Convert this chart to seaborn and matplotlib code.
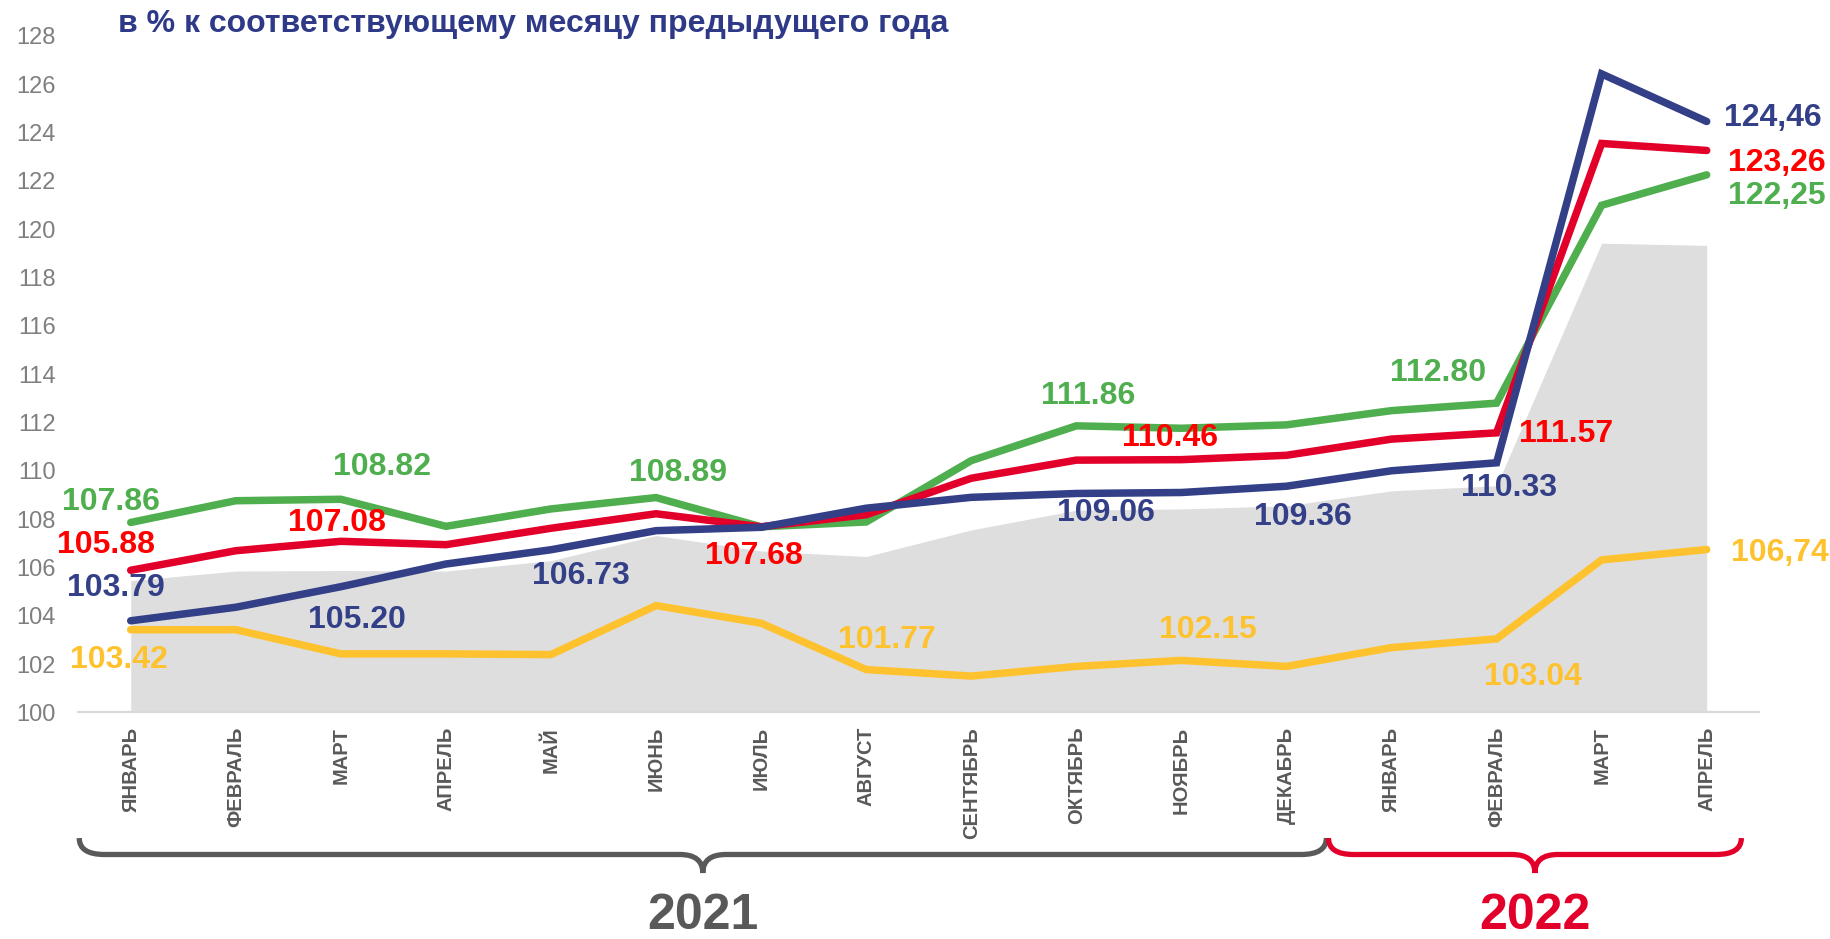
import numpy as np
import pandas as pd
import seaborn as sns
import matplotlib

matplotlib.use("Agg")
import matplotlib.pyplot as plt
from matplotlib.path import Path
from matplotlib.patches import PathPatch
from matplotlib.transforms import blended_transform_factory

# --- data -------------------------------------------------------------
months = ["ЯНВАРЬ", "ФЕВРАЛЬ", "МАРТ", "АПРЕЛЬ", "МАЙ", "ИЮНЬ", "ИЮЛЬ", "АВГУСТ",
          "СЕНТЯБРЬ", "ОКТЯБРЬ", "НОЯБРЬ", "ДЕКАБРЬ",
          "ЯНВАРЬ", "ФЕВРАЛЬ", "МАРТ", "АПРЕЛЬ"]
years = ["2021", "2022"]
months_per_year = [12, 4]

blue = [103.79, 104.35, 105.20, 106.14, 106.73, 107.52, 107.66, 108.45,
        108.90, 109.06, 109.10, 109.36, 110.00, 110.33, 126.43, 124.46]
red = [105.88, 106.69, 107.08, 106.94, 107.62, 108.22, 107.68, 108.18,
       109.69, 110.44, 110.46, 110.64, 111.31, 111.57, 123.55, 123.26]
green = [107.86, 108.76, 108.82, 107.70, 108.42, 108.89, 107.68, 107.88,
         110.42, 111.86, 111.76, 111.90, 112.49, 112.80, 120.99, 122.25]
yellow = [103.42, 103.42, 102.42, 102.42, 102.39, 104.42, 103.69, 101.77,
          101.50, 101.90, 102.15, 101.90, 102.68, 103.04, 106.31, 106.74]
gray_area = [105.45, 105.85, 105.87, 105.85, 106.28, 107.32, 106.68, 106.45,
             107.55, 108.37, 108.42, 108.55, 109.17, 109.38, 119.42, 119.33]

# which points carry a value label
blue_lab = [0, 2, 4, 9, 11, 13, 15]
red_lab = [0, 2, 6, 10, 13, 15]
green_lab = [0, 2, 5, 9, 13, 15]
yellow_lab = [0, 7, 10, 13, 15]

title = "в % к соответствующему месяцу предыдущего года"

# --- style --------------------------------------------------------------
line_col = {"blue": "#333F87", "red": "#E2002B", "green": "#4FAF4F", "yellow": "#FFC22F"}
text_col = {"blue": "#333F87", "red": "#FF0000", "green": "#4FAF4F", "yellow": "#FFC22F"}
year_col = ["#595959", "#E2002B"]
# label offsets in pixels (dx, dy up)
offsets = {
    "blue": [(-15, 33), (16, -33), (30, -26), (30, -20), (16, -31), (12, -25), (17, 3)],
    "red": [(-25, 25), (-4, 18), (-7, -29), (-11, 22), (70, -1), (21, -13)],
    "green": [(-20, 20), (41, 32), (22, 25), (12, 30), (-58, 30), (21, -21)],
    "yellow": [(-12, -30), (21, 30), (27, 30), (36, -38), (24, -3)],
}

sns.set_theme(style="white")
plt.rcParams["font.family"] = ["Liberation Sans", "DejaVu Sans"]

series = {"yellow": yellow, "green": green, "red": red, "blue": blue}
labels_at = {"yellow": yellow_lab, "green": green_lab, "red": red_lab, "blue": blue_lab}

x = np.arange(len(months))
df = pd.concat([pd.DataFrame({"idx": x, "value": v, "series": k}) for k, v in series.items()],
               ignore_index=True)

fig = plt.figure(figsize=(18.31, 9.39), dpi=100)
ax = fig.add_axes([0.0427, 0.2414, 0.9181, 0.7203])

ax.fill_between(x, 100, gray_area, color="#DEDEDE", linewidth=0, zorder=1)

sns.lineplot(data=df, x="idx", y="value", hue="series",
             hue_order=list(series.keys()), palette=line_col,
             linewidth=5.4, legend=False, ax=ax,
             solid_capstyle="round", solid_joinstyle="miter", zorder=3)

for name, vals in series.items():
    for i, (dx, dy) in zip(labels_at[name], offsets[name]):
        last = i == len(vals) - 1
        txt = "{:.2f}".format(vals[i])
        if last:
            txt = txt.replace(".", ",")
        ax.annotate(txt, (i, vals[i]), xytext=(dx, dy), textcoords="offset pixels",
                    ha="left" if last else "center", va="center",
                    fontsize=23, fontweight="bold", color=text_col[name],
                    annotation_clip=False, zorder=5)

ax.set_xlim(-0.5, len(months) - 0.5)
ax.set_ylim(100, 128)
ax.set_yticks(range(100, 129, 2))
ax.set_xticks(x)
ax.set_xticklabels(months, rotation=90, fontsize=14.5, fontweight="bold", color="#595959")
ax.tick_params(axis="x", length=0, pad=10.4)
ax.tick_params(axis="y", length=0, pad=16, labelsize=17, labelcolor="#7F7F7F")
ax.set_xlabel("")
ax.set_ylabel("")
for s in ["top", "right", "left"]:
    ax.spines[s].set_visible(False)
ax.spines["bottom"].set_color("#D9D9D9")
ax.spines["bottom"].set_linewidth(1.6)

fig.text(0.0644, 0.9655, title, fontsize=23, fontweight="bold", color="#2E3A87",
         ha="left", va="baseline")


# --- year braces ----------------------------------------------------------
def brace(x0, x1, color, label):
    tr = blended_transform_factory(ax.transData, fig.transFigure)
    xm = (x0 + x1) / 2
    y_top, y_bar, y_tip = 0.1075, 0.0900, 0.0703
    r_end, r_mid = 0.24, 0.22
    verts = [(x0, y_top), (x0, y_bar), (x0 + r_end, y_bar),
             (xm - r_mid, y_bar), (xm, y_bar), (xm, y_tip),
             (xm, y_bar), (xm + r_mid, y_bar),
             (x1 - r_end, y_bar), (x1, y_bar), (x1, y_top)]
    codes = [Path.MOVETO, Path.CURVE3, Path.CURVE3,
             Path.LINETO, Path.CURVE3, Path.CURVE3,
             Path.CURVE3, Path.CURVE3,
             Path.LINETO, Path.CURVE3, Path.CURVE3]
    patch = PathPatch(Path(verts, codes), transform=tr, fill=False,
                      edgecolor=color, linewidth=3.8, capstyle="butt",
                      clip_on=False)
    fig.add_artist(patch)
    ax.text(xm, 0.0105, label, transform=tr, fontsize=36, fontweight="bold",
            color=color, ha="center", va="baseline", clip_on=False)


split = months_per_year[0] - 0.62
brace(-0.49, split, year_col[0], years[0])
brace(split + 0.02, len(months) - 0.67, year_col[1], years[1])

plt.savefig("out.png", dpi=100)
